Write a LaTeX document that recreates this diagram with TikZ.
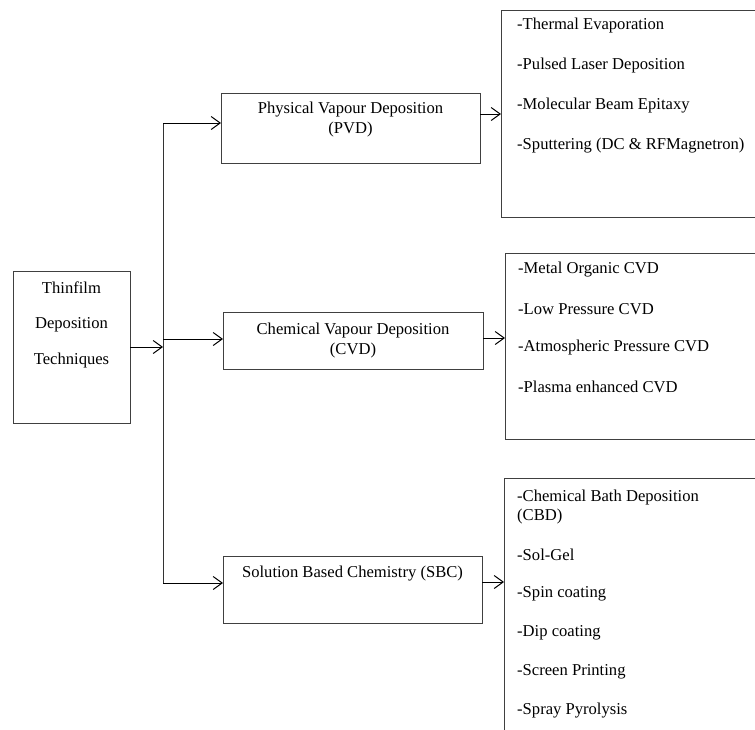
\documentclass[tikz,border=0pt]{standalone}
\usepackage{fontspec}
\setmainfont{Liberation Serif}
\usetikzlibrary{arrows.meta}
\begin{document}
\begin{tikzpicture}[x=1pt,y=-1pt,
 box/.style={draw=black!75, line width=0.9pt, inner sep=0pt, outer sep=0pt, rectangle},
 lbl/.style={font=\fontsize{16.6}{20}\selectfont, inner sep=0pt, align=center},
 item/.style={font=\fontsize{16.6}{19}\selectfont, inner sep=0pt, anchor=west, align=left},
 arr/.style={-{Straight Barb[length=9pt,width=13pt,line width=1pt]}, line width=1pt},
 conn/.style={line width=1pt, draw=black!80}]
\useasboundingbox (0,0) rectangle (755,729);
\clip (0,0) rectangle (755,729);

% root
\node[box, minimum width=117pt, minimum height=152pt] (tech) at (71.5,347) {};
\node[lbl] (t1) at (71.5,288) {Thinfilm};
\node[lbl] (t2) at (71.5,325) {Deposition};
\node[lbl] (t3) at (71.5,360) {Techniques};

% middle boxes
\node[box, minimum width=259pt, minimum height=70pt] (pvd) at (350.5,128) {};
\node[lbl] (pvdt) at (350.5,120) {Physical Vapour Deposition\\(PVD)};
\node[box, minimum width=260pt, minimum height=57pt] (cvd) at (353,340.5) {};
\node[lbl] (cvdt) at (353,340) {Chemical Vapour Deposition\\(CVD)};
\node[box, minimum width=259pt, minimum height=67pt] (sbc) at (352.5,589.5) {};
\node[lbl] (sbct) at (352.5,574) {Solution Based Chemistry (SBC)};

% list boxes (right edge beyond the picture)
\node[box, minimum width=299pt, minimum height=207pt] (pvdl) at (650.5,113.5) {};
\node[item] at (517,26) {-Thermal Evaporation};
\node[item] at (517,66) {-Pulsed Laser Deposition};
\node[item] at (517,106) {-Molecular Beam Epitaxy};
\node[item] at (517,146) {-Sputtering (DC \& RFMagnetron)};

\node[box, minimum width=295pt, minimum height=186pt] (cvdl) at (652.5,346) {};
\node[item] at (518,270) {-Metal Organic CVD};
\node[item] at (518,309) {-Low Pressure CVD};
\node[item] at (518,348) {-Atmospheric Pressure CVD};
\node[item] at (518,387) {-Plasma enhanced CVD};

\node[box, minimum width=296pt, minimum height=322pt] (sbcl) at (652,639) {};
\node[item] at (517,497) {-Chemical Bath Deposition};
\node[item] at (517,516) {(CBD)};
\node[item] at (517,555) {-Sol-Gel};
\node[item] at (517,594) {-Spin coating};
\node[item] at (517,633) {-Dip coating};
\node[item] at (517,672) {-Screen Printing};
\node[item] at (517,711) {-Spray Pyrolysis};

% trunk
\coordinate (jt) at (163,123);
\coordinate (jm) at (163,339);
\coordinate (jb) at (163,583);
\coordinate (jr) at (163,347);
\draw[conn] (jt) -- (jb);
\draw[arr] (tech.east) -- (jr);
\draw[arr] (jt) -- (pvd.west |- jt);
\draw[arr] (jm) -- (cvd.west |- jm);
\draw[arr] (jb) -- (sbc.west |- jb);

% outputs
\coordinate (o1) at (490,114);
\coordinate (o2) at (490,338);
\coordinate (o3) at (490,582);
\draw[arr] (pvd.east |- o1) -- (pvdl.west |- o1);
\draw[arr] (cvd.east |- o2) -- (cvdl.west |- o2);
\draw[arr] (sbc.east |- o3) -- (sbcl.west |- o3);
\end{tikzpicture}
\end{document}
